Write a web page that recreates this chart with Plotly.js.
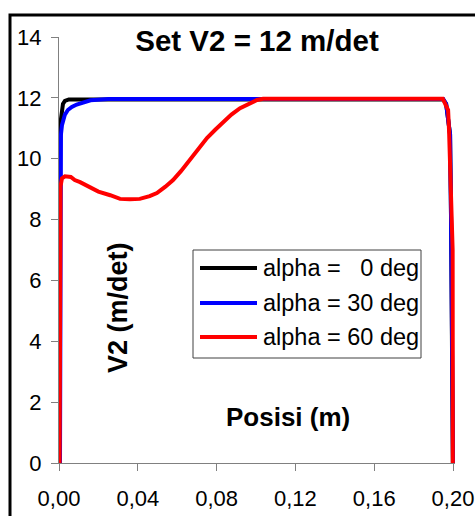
<!DOCTYPE html>
<html>
<head>
<meta charset="utf-8">
<script src="https://cdn.plot.ly/plotly-3.0.1.min.js"></script>
<style>html,body{margin:0;padding:0;background:#fff;}#chart{width:475px;height:516px;}</style>
</head>
<body>
<div id="chart"></div>
<script>
// Series: alpha = 0 deg
const x0 = [0.0002, 0.0003, 0.0005, 0.001, 0.0015, 0.002, 0.003, 0.005, 0.01, 0.05, 0.1, 0.15, 0.195, 0.1965, 0.1975, 0.1985, 0.199, 0.1995, 0.1999];
const y0 = [0, 8.0, 10.8, 11.3, 11.6, 11.8, 11.9, 11.95, 11.95, 11.95, 11.95, 11.95, 11.95, 11.8, 11.4, 10.8, 8.0, 4.0, 0];
// Series: alpha = 30 deg
const x30 = [0.0005, 0.0006, 0.001, 0.0015, 0.002, 0.003, 0.0045, 0.0065, 0.009, 0.012, 0.016, 0.025, 0.05, 0.1, 0.15, 0.195, 0.1965, 0.1975, 0.1985, 0.199, 0.1995, 0.2];
const y30 = [0, 10.0, 10.8, 11.1, 11.25, 11.45, 11.6, 11.7, 11.78, 11.85, 11.92, 11.96, 11.96, 11.96, 11.96, 11.96, 11.8, 11.4, 10.8, 8.0, 4.0, 0];
// Series: alpha = 60 deg
const x60 = [0.0003, 0.0005, 0.0008, 0.0015, 0.003, 0.006, 0.008, 0.0107, 0.015, 0.02, 0.026, 0.031, 0.036, 0.041, 0.046, 0.0497, 0.054, 0.0579, 0.062, 0.0665, 0.071, 0.0751, 0.0793, 0.0832, 0.0875, 0.0919, 0.096, 0.1005, 0.1036, 0.12, 0.15, 0.18, 0.1948, 0.1975, 0.198, 0.1998, 0.1999];
const y60 = [0, 7.5, 9.1, 9.35, 9.42, 9.4, 9.3, 9.23, 9.1, 8.92, 8.8, 8.68, 8.67, 8.68, 8.77, 8.87, 9.08, 9.3, 9.6, 9.96, 10.33, 10.68, 10.95, 11.2, 11.45, 11.66, 11.8, 11.93, 11.97, 11.97, 11.97, 11.97, 11.97, 11.6, 10.9, 7.0, 0];

const seriesNames = ['alpha =\u00a0\u00a0\u00a00 deg', 'alpha = 30 deg', 'alpha = 60 deg'];
const seriesColors = ['#000000', '#0000ff', '#ff0000'];

const xTickVals = [0, 0.04, 0.08, 0.12, 0.16, 0.20];
const xTickText = ['0,00', '0,04', '0,08', '0,12', '0,16', '0,20'];
const yTickVals = [0, 2, 4, 6, 8, 10, 12, 14];

const chartTitle = 'Set V2 = 12 m/det';
const xTitle = 'Posisi (m)';
const yTitle = 'V2 (m/det)';

const FONT = 'Liberation Sans, Arial, sans-serif';

// pixel -> paper helpers for the plot area (l=59, plot width 396, top 37, plot height 426)
const PX = p => (p - 59) / 396;
const PY = p => (463 - p) / 426;

const xs = [x0, x30, x60];
const ys = [y0, y30, y60];
const traces = xs.map((x, i) => ({
  x: x, y: ys[i], type: 'scatter', mode: 'lines', name: seriesNames[i],
  line: {color: seriesColors[i], width: 4}, showlegend: false
}));

const annotations = [
  {text: '<b>' + xTitle + '</b>', xref: 'paper', yref: 'paper', x: PX(288), y: PY(417),
   xanchor: 'center', yanchor: 'middle', showarrow: false, font: {size: 26, family: FONT, color: '#000'}},
  {text: '<b>' + yTitle + '</b>', xref: 'paper', yref: 'paper', x: PX(118), y: PY(308),
   xanchor: 'center', yanchor: 'middle', textangle: -90, showarrow: false, font: {size: 27, family: FONT, color: '#000'}}
];
const shapes = [
  {type: 'rect', xref: 'paper', yref: 'paper', x0: PX(10), x1: PX(490), y0: PY(530), y1: PY(15),
   line: {color: '#000', width: 3}, fillcolor: 'rgba(0,0,0,0)', layer: 'above'},
  {type: 'rect', xref: 'paper', yref: 'paper', x0: PX(193), x1: PX(421), y0: PY(358), y1: PY(250),
   line: {color: '#404040', width: 1}, fillcolor: '#ffffff', layer: 'above'}
];
const legendRows = [268, 303, 337];
seriesNames.forEach((n, i) => {
  shapes.push({type: 'line', xref: 'paper', yref: 'paper', x0: PX(200), x1: PX(257), y0: PY(legendRows[i]), y1: PY(legendRows[i]),
               line: {color: seriesColors[i], width: 4}, layer: 'above'});
  annotations.push({text: n, xref: 'paper', yref: 'paper', x: PX(261), y: PY(legendRows[i]),
                    xanchor: 'left', yanchor: 'middle', showarrow: false, font: {size: 23.5, family: FONT, color: '#000'}});
});

const layout = {
  width: 475, height: 516,
  margin: {l: 59, r: 20, t: 37, b: 53},
  paper_bgcolor: '#ffffff', plot_bgcolor: '#ffffff',
  font: {family: FONT, color: '#000'},
  title: {text: '<b>' + chartTitle + '</b>', font: {size: 29.5, family: FONT, color: '#000'},
          x: PX(257), xanchor: 'center', y: 1 - 41/516, yanchor: 'middle', xref: 'paper', yref: 'container'},
  xaxis: {range: [0, 0.201], tickvals: xTickVals, ticktext: xTickText,
          showline: true, linecolor: '#808080', linewidth: 1, ticks: 'outside', ticklen: 7, tickcolor: '#808080',
          ticklabelstandoff: 9,
          showgrid: false, zeroline: false, tickfont: {size: 22, family: FONT, color: '#000'}, layer: 'below traces'},
  yaxis: {range: [0, 14], tickvals: yTickVals,
          showline: true, linecolor: '#808080', linewidth: 1, ticks: 'outside', ticklen: 7, tickcolor: '#808080',
          ticklabelstandoff: 5,
          showgrid: false, zeroline: false, tickfont: {size: 22, family: FONT, color: '#000'}, layer: 'below traces'},
  showlegend: false,
  annotations: annotations,
  shapes: shapes
};

Plotly.newPlot('chart', traces, layout, {displayModeBar: false, staticPlot: true});
</script>
</body>
</html>
